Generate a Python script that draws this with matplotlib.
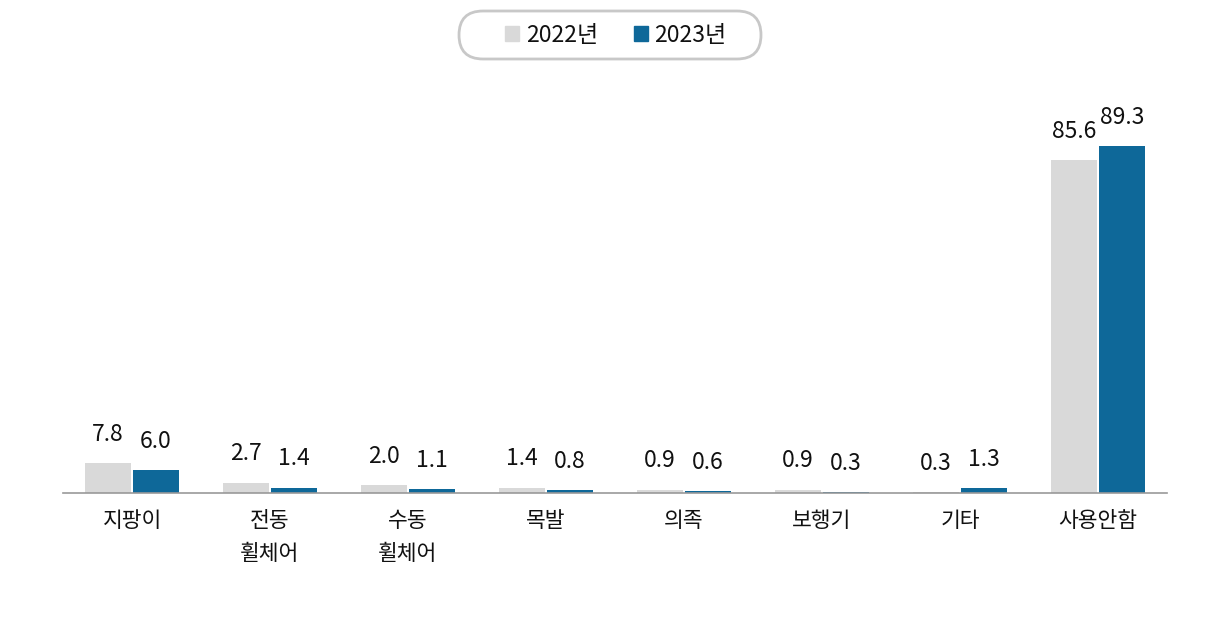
import matplotlib
matplotlib.use("Agg")
import matplotlib.pyplot as plt
from matplotlib.patches import Patch, FancyBboxPatch
import numpy as np

plt.rcParams["font.family"] = ["Noto Sans CJK KR", "DejaVu Sans"]

categories = ["지팡이", "전동\n휠체어", "수동\n휠체어", "목발", "의족", "보행기", "기타", "사용안함"]
y2022 = [7.8, 2.7, 2.0, 1.4, 0.9, 0.9, 0.3, 85.6]
y2023 = [6.0, 1.4, 1.1, 0.8, 0.6, 0.3, 1.3, 89.3]
series = ["2022년", "2023년"]
GRAY, BLUE = "#d9d9d9", "#0e6899"

fig = plt.figure(figsize=(12.19, 6.23), dpi=100)
ax = fig.add_axes([63 / 1219, 130 / 623, 1104 / 1219, 393 / 623])

x = np.arange(len(categories))
w = 0.333
b1 = ax.bar(x - w / 2 - 0.008, y2022, w, color=GRAY)
b2 = ax.bar(x + w / 2 + 0.008, y2023, w, color=BLUE)
for bars, vals in ((b1, y2022), (b2, y2023)):
    for bi, v in zip(bars, vals):
        ax.text(bi.get_x() + bi.get_width() / 2, v + 4.4, f"{v:.1f}", ha="center", va="bottom",
                fontsize=16.5, color="#111111")

ax.set_xlim(-0.5, len(categories) - 0.5)
ax.set_ylim(0, 393 / 3.886)
ax.set_yticks([])
ax.set_xticks(x)
ax.set_xticklabels(categories, fontsize=15.5, color="#111111", linespacing=1.65, va="top")
ax.tick_params(axis="x", length=0, pad=12)
for s in ("top", "right", "left"):
    ax.spines[s].set_visible(False)
ax.spines["bottom"].set_color("#999999")
ax.spines["bottom"].set_linewidth(1.2)

# pill-shaped legend frame
pill = FancyBboxPatch((4.59, 5.64), 3.02, 0.48, boxstyle="round,pad=0,rounding_size=0.24",
                      transform=fig.dpi_scale_trans, facecolor="white", edgecolor="#c8c8c8", lw=2)
fig.patches.append(pill)
handles = [Patch(color=GRAY, label=series[0]), Patch(color=BLUE, label=series[1])]
leg = fig.legend(handles=handles, loc="center", bbox_to_anchor=(616 / 1219, 1 - 35 / 623), ncol=2,
                 fontsize=16.5, handlelength=0.6, handleheight=0.6, handletextpad=0.3,
                 columnspacing=1.55, borderaxespad=0, frameon=False)
for t in leg.get_texts():
    t.set_color("#111111")

fig.savefig("out.png", dpi=100)
